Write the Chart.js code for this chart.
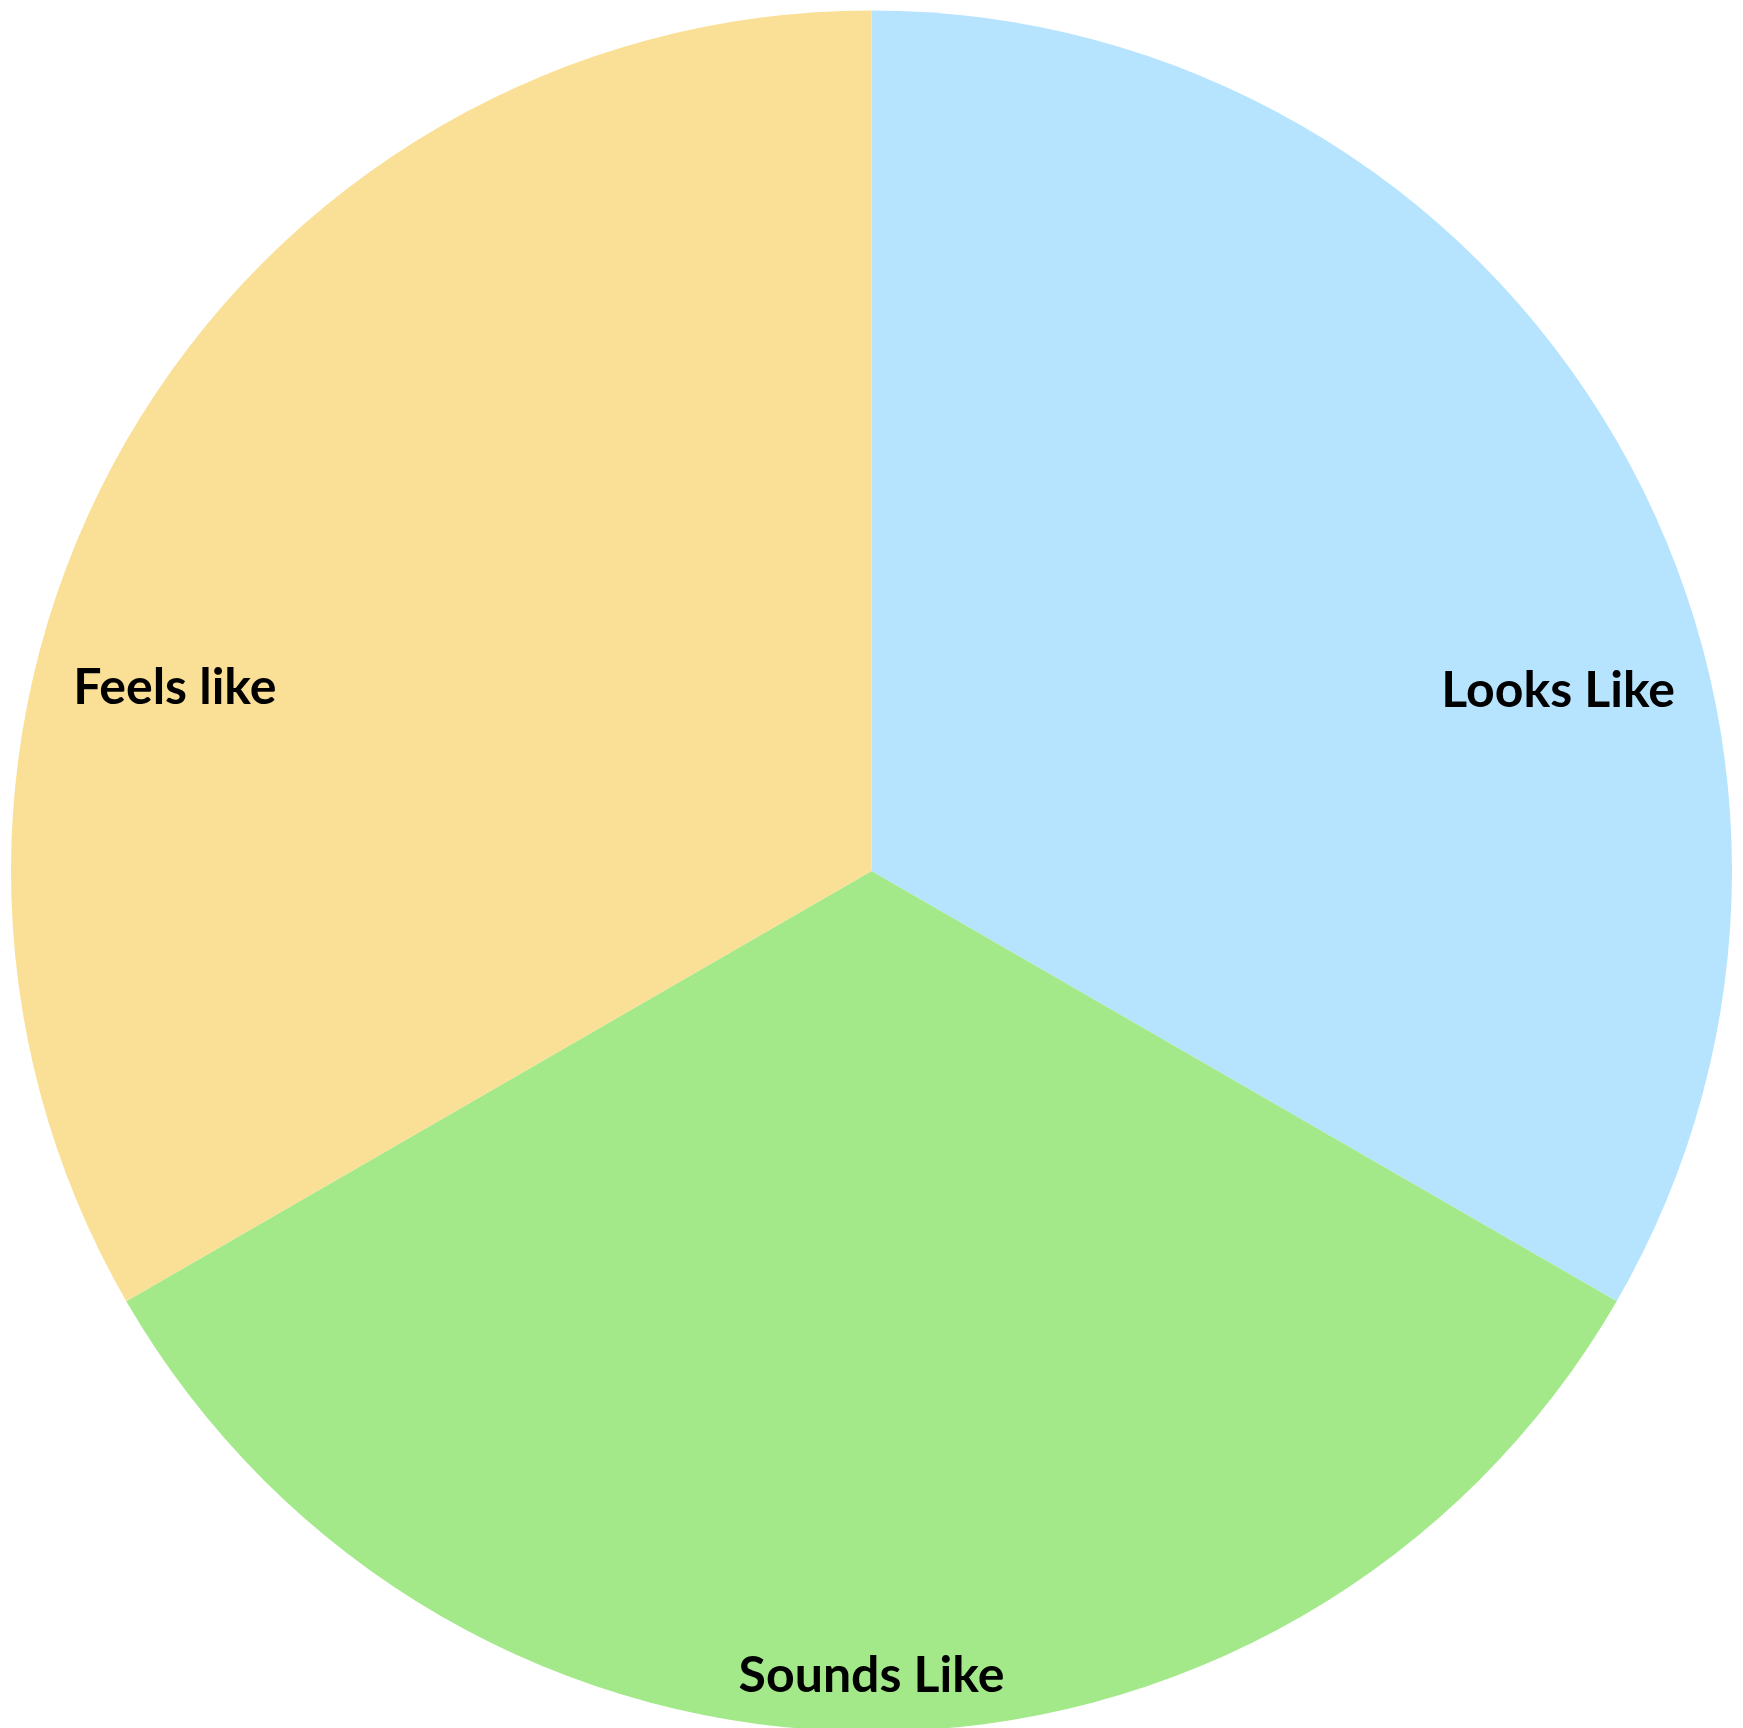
<!DOCTYPE html>
<html>
<head>
<meta charset="utf-8">
<script src="https://cdn.jsdelivr.net/npm/chart.js@4/dist/chart.umd.min.js"></script>
<style>
  html, body { margin: 0; padding: 0; background: #fff; overflow: hidden; }
  #wrap { width: 1743px; height: 1742px; }
</style>
</head>
<body>
<div id="wrap"><canvas id="myChart"></canvas></div>
<script>
// Datos del grafico
const categories = ["Looks Like", "Sounds Like", "Feels like"];
const values = [1, 1, 1];
const sliceColors = ["#b6e4ff", "#a3e98a", "#fae096"];

// Colocacion de las etiquetas (angulo desde arriba en grados, fraccion del radio)
const labelPlacement = [
  { angle: 75.3, dist: 0.825 },
  { angle: 180, dist: 0.935 },
  { angle: 284.7, dist: 0.837 },
];

// Plugin para pintar las etiquetas dentro de cada sector
const sliceLabels = {
  id: "sliceLabels",
  afterDatasetsDraw(chart) {
    const ctx = chart.ctx;
    const meta = chart.getDatasetMeta(0);
    ctx.save();
    ctx.font = "bold 50px Lato";
    ctx.fillStyle = "#000";
    ctx.textAlign = "center";
    ctx.textBaseline = "middle";
    meta.data.forEach((arc, i) => {
      const p = labelPlacement[i];
      const a = (p.angle - 90) * Math.PI / 180;
      const r = arc.outerRadius * p.dist;
      ctx.fillText(chart.data.labels[i], arc.x + Math.cos(a) * r, arc.y + Math.sin(a) * r);
    });
    ctx.restore();
  },
};

const ctx = document.getElementById("myChart").getContext("2d");
const myChart = new Chart(ctx, {
  type: "pie",
  data: {
    labels: categories,
    datasets: [
      {
        data: values,
        backgroundColor: sliceColors,
        borderWidth: 0,
      },
    ],
  },
  options: {
    responsive: true,
    maintainAspectRatio: false,
    animation: false,
    layout: { padding: { left: 11, right: 11, top: 10, bottom: 10 } },
    plugins: {
      legend: { display: false },
      tooltip: { enabled: false },
    },
  },
  plugins: [sliceLabels],
});
</script>
</body>
</html>
